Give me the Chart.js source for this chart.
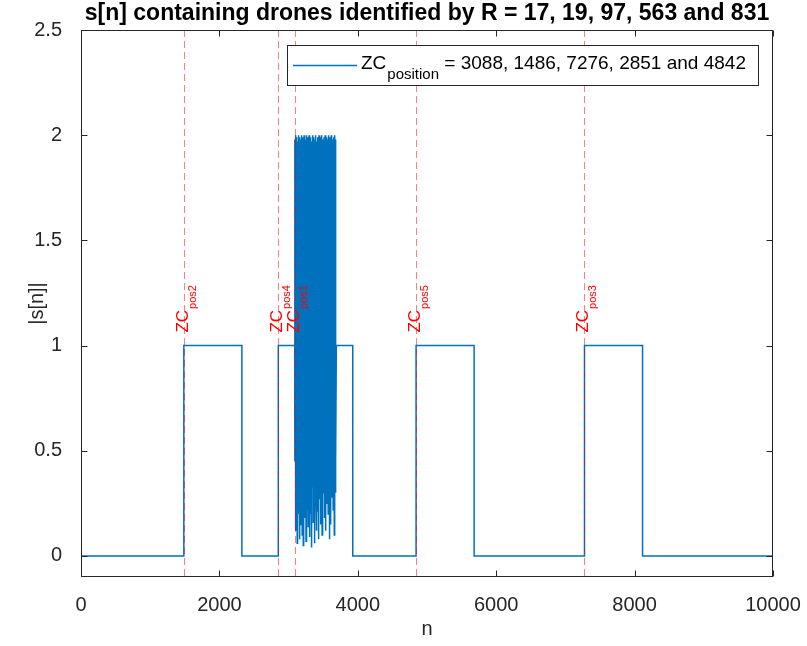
<!DOCTYPE html>
<html><head><meta charset="utf-8">
<script src="https://cdn.jsdelivr.net/npm/chart.js@4/dist/chart.umd.min.js"></script>
<style>html,body{margin:0;padding:0;background:#fff}</style>
</head><body>
<canvas id="c" width="807" height="646"></canvas>
<script>
// ---------- data ----------
const titleText = 's[n] containing drones identified by R = 17, 19, 97, 563 and 831';
const xLabel = 'n';
const yLabel = '|s[n]|';
const zcPositions = [3088, 1486, 7276, 2851, 4842];
const zcLabels = ['pos1', 'pos2', 'pos3', 'pos4', 'pos5'];
const legendMain = 'ZC';
const legendSub = 'position';
const legendRest = ' = 3088, 1486, 7276, 2851 and 4842';
// breakpoints of |s[n]| (sample index) and level of each segment (null = overlap burst)
const levelN = [0, 1486, 2325, 2851, 3088, 3690, 3927, 4842, 5681, 7276, 8115, 10000];
const levelV = [0, 1, 0, 1, null, 1, 0, 1, 0, 1, 0];
// overlap region (ZC1 + ZC4) peaks and troughs
const burstHigh = [
 1.98,1.93,2.00,1.96,1.99,1.91,1.97,2.00,1.95,1.99,1.94,1.98,2.00,1.92,1.97,
 1.99,1.95,2.00,1.93,1.98,1.96,2.00,1.94,1.99,1.97,1.92,2.00,1.98,1.95,1.99,
 1.93,1.97,2.00,1.96,1.99,1.94,1.98,1.91,2.00,1.97,1.95,1.99,1.93,1.98,2.00,
 1.96,1.94,1.99,1.97,2.00,1.92,1.98,1.95,1.99,1.97,2.00,1.94,1.96,1.99,1.93,
 1.98,2.00,1.95,1.97,1.99,1.94,2.00,1.96,1.98,1.93,1.99,1.97,2.00,1.95,1.98];
const burstLow = [
 0.45,0.12,0.50,0.30,0.06,0.55,0.20,0.40,0.08,0.48,0.25,0.15,0.52,0.10,0.35,
 0.05,0.42,0.18,0.60,0.28,0.07,0.45,0.22,0.50,0.14,0.38,0.09,0.47,0.20,0.55,
 0.04,0.33,0.50,0.16,0.44,0.26,0.06,0.58,0.30,0.12,0.49,0.21,0.40,0.08,0.53,
 0.27,0.15,0.46,0.35,0.10,0.50,0.30,0.42,0.18,0.55,0.33,0.12,0.47,0.25,0.60,
 0.20,0.44,0.08,0.52,0.36,0.15,0.48,0.28,0.56,0.22,0.40,0.10,0.50,0.30,0.45];
const burstStep = 4;
const xTicks = [0, 2000, 4000, 6000, 8000, 10000];
const yTicks = [0, 0.5, 1, 1.5, 2, 2.5];
const xRange = [0, 10000];
const yRange = [-0.1, 2.5];

// ---------- build points ----------
const pts = [];
for (let i = 0; i < levelV.length; i++) {
  const a = levelN[i], b = levelN[i + 1], v = levelV[i];
  if (v === null) {
    for (let k = 0; k < burstHigh.length; k++) {
      pts.push({x: a + 2 * k * burstStep, y: burstHigh[k]});
      pts.push({x: a + (2 * k + 1) * burstStep, y: burstLow[k]});
    }
  } else {
    pts.push({x: a, y: v});
    pts.push({x: b, y: v});
  }
}

const FONT = "'Liberation Sans', Arial, Helvetica, sans-serif";
const AX = '#262626';

const decor = {
  id: 'decor',
  afterDatasetsDraw(chart) {
    const {ctx, chartArea: ca, scales: {x, y}} = chart;
    ctx.save();
    ctx.strokeStyle = 'rgba(255,0,0,0.5)';
    ctx.lineWidth = 1;
    ctx.setLineDash([7, 4]);
    zcPositions.forEach(p => {
      const px = Math.round(x.getPixelForValue(p)) + 0.5;
      ctx.beginPath(); ctx.moveTo(px, ca.top); ctx.lineTo(px, ca.bottom); ctx.stroke();
    });
    ctx.setLineDash([]);
    ctx.fillStyle = '#ff0000';
    const y1 = y.getPixelForValue(1);
    zcPositions.forEach((p, i) => {
      const px = x.getPixelForValue(p);
      ctx.save();
      ctx.translate(px + 4, y1 - 13);
      ctx.rotate(-Math.PI / 2);
      ctx.textBaseline = 'alphabetic'; ctx.textAlign = 'left';
      ctx.font = '17px ' + FONT;
      ctx.fillText('ZC', 0, 0);
      const w = ctx.measureText('ZC').width;
      ctx.font = '11px ' + FONT;
      ctx.fillText(zcLabels[i], w + 1, 8);
      ctx.restore();
    });
    ctx.restore();
  },
  afterDraw(chart) {
    const {ctx, chartArea: ca, scales: {x, y}} = chart;
    ctx.save();
    ctx.strokeStyle = AX; ctx.lineWidth = 1;
    const L = Math.round(ca.left) + 0.5, R = Math.round(ca.right) - 0.5;
    const T = Math.round(ca.top) + 0.5, B = Math.round(ca.bottom) - 0.5;
    ctx.strokeRect(L, T, R - L, B - T);
    const tl = 6;
    ctx.beginPath();
    xTicks.forEach(v => {
      const px = Math.round(x.getPixelForValue(v)) + 0.5;
      ctx.moveTo(px, B); ctx.lineTo(px, B - tl);
      ctx.moveTo(px, T); ctx.lineTo(px, T + tl);
    });
    yTicks.forEach(v => {
      const py = Math.round(y.getPixelForValue(v)) + 0.5;
      ctx.moveTo(L, py); ctx.lineTo(L + tl, py);
      ctx.moveTo(R, py); ctx.lineTo(R - tl, py);
    });
    ctx.stroke();
    // legend
    const lx = 287.5, ly = 45.5, lw = 471, lh = 40;
    ctx.fillStyle = '#fff';
    ctx.fillRect(lx, ly, lw, lh);
    ctx.strokeStyle = AX;
    ctx.strokeRect(lx, ly, lw, lh);
    ctx.strokeStyle = '#0072BD'; ctx.lineWidth = 1.5;
    ctx.beginPath(); ctx.moveTo(293, 65.5); ctx.lineTo(357, 65.5); ctx.stroke();
    ctx.fillStyle = '#000';
    ctx.textBaseline = 'alphabetic'; ctx.textAlign = 'left';
    let tx = 361;
    ctx.font = '19px ' + FONT;
    ctx.fillText(legendMain, tx, 69);
    tx += ctx.measureText(legendMain).width + 1;
    ctx.font = '15px ' + FONT;
    ctx.fillText(legendSub, tx, 79);
    tx += ctx.measureText(legendSub).width;
    ctx.font = '19px ' + FONT;
    ctx.fillText(legendRest, tx, 69);
    ctx.restore();
  }
};

new Chart(document.getElementById('c'), {
  type: 'line',
  data: {datasets: [{
    data: pts, borderColor: '#0072BD', borderWidth: 1.5, pointRadius: 0,
    fill: false, tension: 0
  }]},
  options: {
    responsive: false, animation: false, devicePixelRatio: 1,
    layout: {padding: {left: 0, right: 34, top: 0, bottom: 0}},
    plugins: {
      legend: {display: false}, tooltip: {enabled: false},
      title: {display: true, text: titleText, fullSize: false, color: '#000',
        font: {family: FONT, size: 23, weight: 'bold'}, padding: {top: 0, bottom: 2.4}}
    },
    scales: {
      x: {
        type: 'linear', min: xRange[0], max: xRange[1],
        afterBuildTicks: s => { s.ticks = xTicks.map(v => ({value: v})); },
        afterFit: s => { s.height = 69; s.paddingLeft = 0; s.paddingRight = 0; },
        grid: {display: false}, border: {display: false},
        ticks: {color: AX, font: {family: FONT, size: 20}, padding: 8, maxRotation: 0,
          callback: v => String(v)},
        title: {display: true, text: xLabel, color: AX, font: {family: FONT, size: 20},
          padding: {top: 0, bottom: 5}}
      },
      y: {
        type: 'linear', min: yRange[0], max: yRange[1],
        afterBuildTicks: s => { s.ticks = yTicks.map(v => ({value: v})); },
        afterFit: s => { s.width = 81; s.paddingTop = 0; s.paddingBottom = 0; },
        grid: {display: false}, border: {display: false},
        ticks: {color: AX, font: {family: FONT, size: 20}, padding: 11,
          callback: v => String(v)},
        title: {display: true, text: yLabel, color: AX, font: {family: FONT, size: 20},
          padding: {top: 25, bottom: 0}}
      }
    }
  },
  plugins: [decor]
});
</script>
</body></html>
